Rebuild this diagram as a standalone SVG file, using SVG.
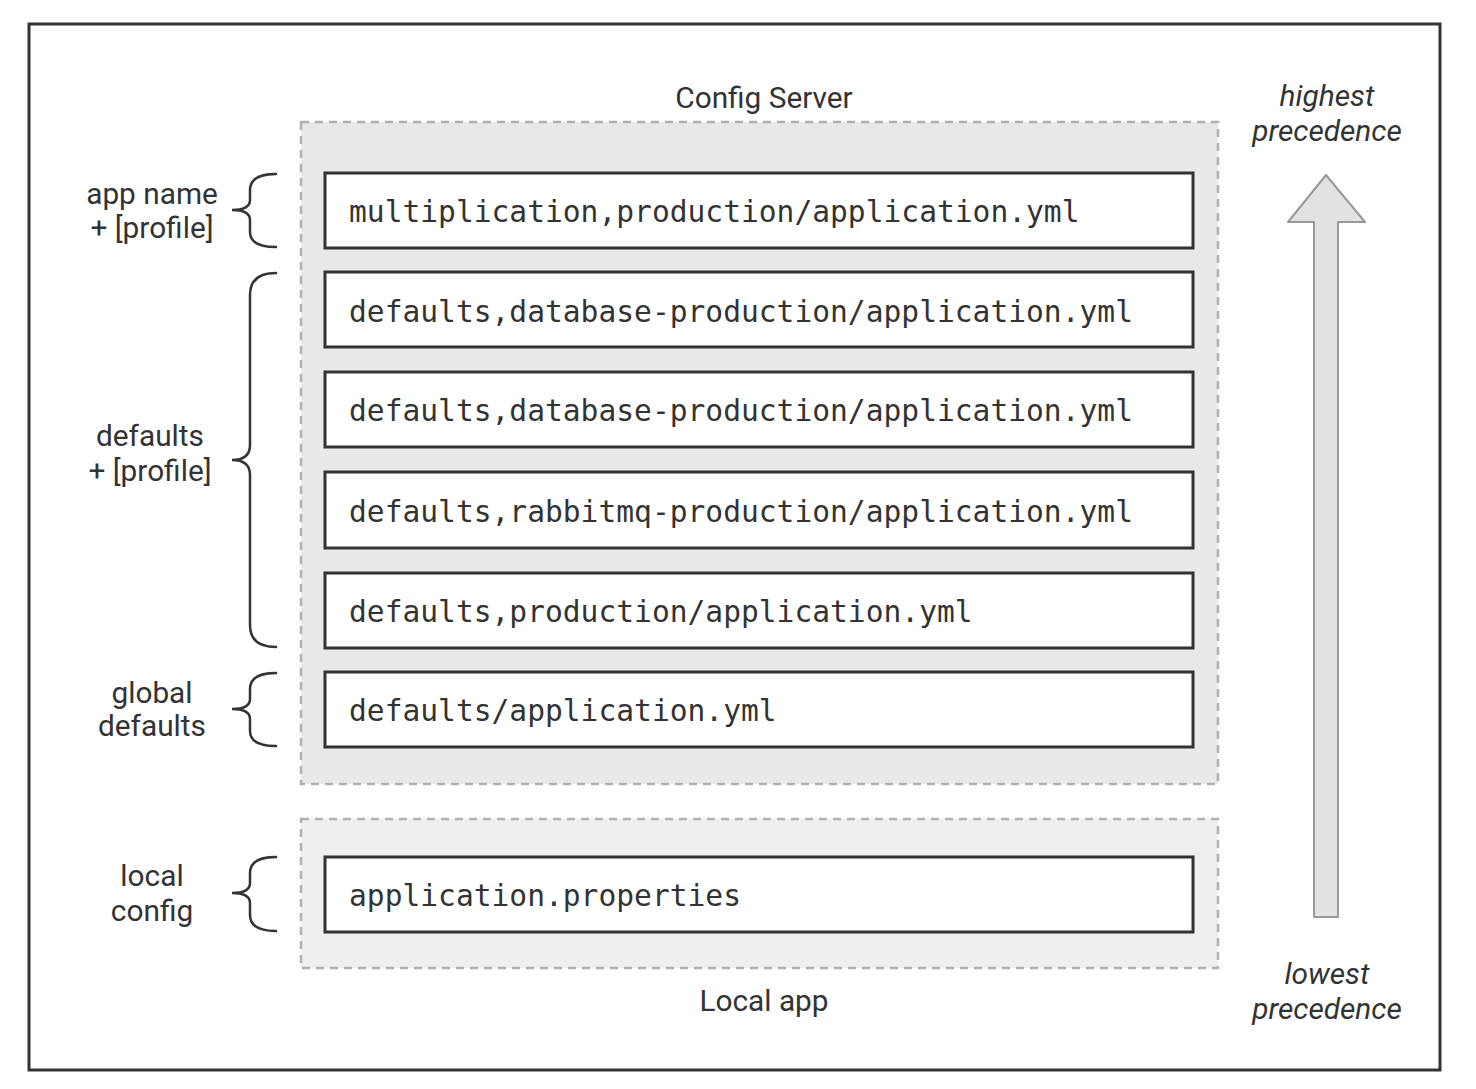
<svg xmlns="http://www.w3.org/2000/svg" width="1476" height="1089" viewBox="0 0 1476 1089">
<style>
.lbl{font-family:Roboto,"Liberation Sans",sans-serif;font-size:29.8px;fill:#333;text-anchor:middle}
.it{font-style:italic}
.mono{font-family:"DejaVu Sans Mono","Liberation Mono",monospace;font-size:29.6px;fill:#333}
.file{fill:#fff;stroke:#333;stroke-width:3}
.grp{stroke:#b0b0b0;stroke-width:2.5;stroke-dasharray:8 6}
.brace{fill:none;stroke:#333;stroke-width:2.5;stroke-linecap:round}
</style>
<rect x="0" y="0" width="1476" height="1089" fill="#fff"/>
<rect id="frame" x="29" y="24" width="1411" height="1046" fill="#fff" stroke="#333" stroke-width="3"/>
<g id="config-server">
<rect class="grp" x="301" y="122" width="917" height="662" fill="#e9e9e9"/>
<text class="lbl" x="764" y="108">Config Server</text>
</g>
<g id="local-app">
<rect class="grp" x="301" y="819" width="917" height="149" fill="#efefef"/>
<text class="lbl" x="764" y="1011">Local app</text>
</g>
<g id="f1"><rect class="file" x="325" y="173" width="868" height="75"/><text class="mono" x="349" y="222">multiplication,production/application.yml</text></g>
<g id="f2"><rect class="file" x="325" y="272" width="868" height="75"/><text class="mono" x="349" y="322">defaults,database-production/application.yml</text></g>
<g id="f3"><rect class="file" x="325" y="372" width="868" height="75"/><text class="mono" x="349" y="421">defaults,database-production/application.yml</text></g>
<g id="f4"><rect class="file" x="325" y="472" width="868" height="76"/><text class="mono" x="349" y="522">defaults,rabbitmq-production/application.yml</text></g>
<g id="f5"><rect class="file" x="325" y="573" width="868" height="75"/><text class="mono" x="349" y="622">defaults,production/application.yml</text></g>
<g id="f6"><rect class="file" x="325" y="672" width="868" height="75"/><text class="mono" x="349" y="721">defaults/application.yml</text></g>
<g id="f7"><rect class="file" x="325" y="857" width="868" height="75"/><text class="mono" x="349" y="906">application.properties</text></g>
<g id="lbl-app"><text class="lbl" x="152" y="204">app name</text><text class="lbl" x="152" y="238">+ [profile]</text>
<path class="brace" d="M276,174 Q250,174 250,190 L250,200 Q250,210 232,210 Q250,210 250,220 L250,232 Q250,247 276,247"/></g>
<g id="lbl-defaults"><text class="lbl" x="150" y="446">defaults</text><text class="lbl" x="150" y="481">+ [profile]</text>
<path class="brace" d="M276,273 Q250,273 250,295 L250,445 Q250,460 232,460 Q250,460 250,475 L250,625 Q250,647 276,647"/></g>
<g id="lbl-global"><text class="lbl" x="152" y="703">global</text><text class="lbl" x="152" y="736">defaults</text>
<path class="brace" d="M276,673 Q250,673 250,689 L250,699 Q250,709 232,709 Q250,709 250,719 L250,731 Q250,746 276,746"/></g>
<g id="lbl-local"><text class="lbl" x="152" y="886">local</text><text class="lbl" x="152" y="921">config</text>
<path class="brace" d="M276,857 Q250,857 250,873 L250,883 Q250,893 232,893 Q250,893 250,903 L250,915 Q250,931 276,931"/></g>
<g id="precedence">
<text class="lbl it" x="1327" y="106">highest</text><text class="lbl it" x="1327" y="141">precedence</text>
<path d="M1314,917 L1314,222 L1288,222 L1326,175 L1365,222 L1338,222 L1338,917 Z" fill="#e2e2e2" stroke="#999" stroke-width="2" stroke-linejoin="round"/>
<text class="lbl it" x="1327" y="984">lowest</text><text class="lbl it" x="1327" y="1019">precedence</text>
</g>
</svg>
